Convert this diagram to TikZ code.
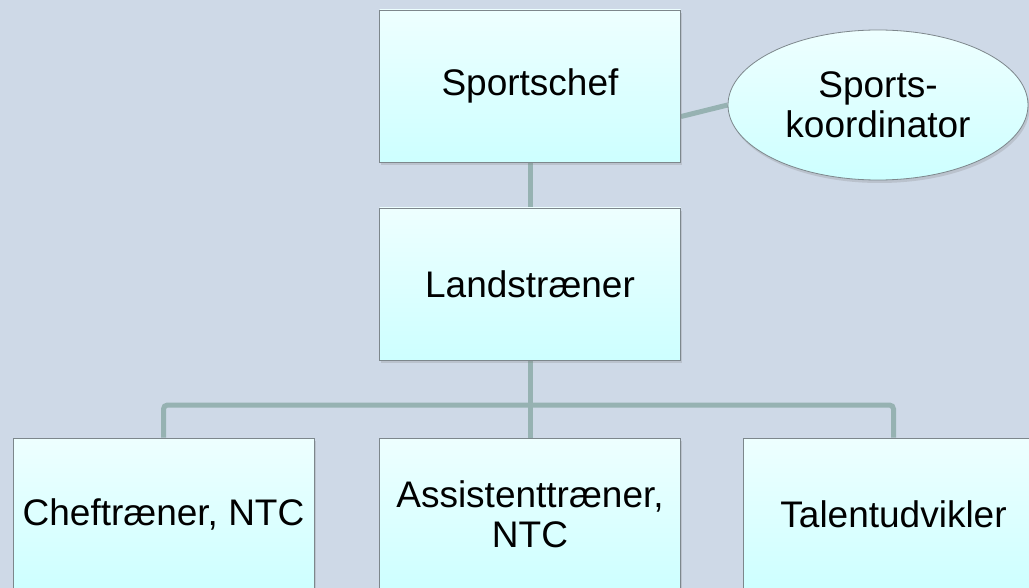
\documentclass[tikz,border=0pt]{standalone}
\usepackage{fontspec}
\setmainfont{Liberation Sans}
\usepackage{tikz}
\usetikzlibrary{calc,shapes.geometric,shadows}

\definecolor{bgcol}{RGB}{206,217,231}
\definecolor{linkcol}{RGB}{150,178,178}
\definecolor{boxtop}{RGB}{238,255,255}
\definecolor{boxbot}{RGB}{205,255,255}
\definecolor{boxline}{RGB}{125,135,140}

\pgfdeclarelayer{back}
\pgfdeclarelayer{links}
\pgfsetlayers{back,links,main}

\begin{document}
\begin{tikzpicture}[x=1pt,y=-1pt,
    post/.style={draw=boxline, line width=0.8pt, top color=boxtop, bottom color=boxbot,
      minimum width=301pt, minimum height=152pt, inner sep=0pt, align=center,
      font=\fontsize{37}{40}\selectfont,
      drop shadow={opacity=0.25, shadow xshift=1.5pt, shadow yshift=-3pt}},
    bubble/.style={post, ellipse, minimum width=300pt, minimum height=150pt},
    link/.style={draw=linkcol, line width=5pt, rounded corners=4pt}]
      \useasboundingbox (0,0) rectangle (1029,588);
      \clip (0,0) rectangle (1029,588);

      %% top
      \node [post] (chef) at (530,86) {Sportschef};
      \node [bubble] (koord) at (878,105) {Sports-\\koordinator};
      \node [post] (land) at (530,284) {Landstræner};
      \coordinate (bar) at (530,405);

      %% bottom row
      \node [post] (cheftr) at (163.5,514) {Cheftræner, NTC};
      \node [post] (assist) at (530,514) {Assistenttræner,\\NTC};
      \node [post] (talent) at (893.5,514) {Talentudvikler};

      \begin{pgfonlayer}{back}
        \fill [bgcol] (0,0) rectangle (1029,588);
      \end{pgfonlayer}

      \begin{pgfonlayer}{links}
        \draw [link] (chef) -- (land);
        \draw [link] (land) -- (assist);
        \draw [link] (bar) -| (cheftr.north);
        \draw [link] (bar) -| (talent.north);
        \draw [link] ($(chef.south east)!0.3!(chef.north east)$) -- (koord.west);
      \end{pgfonlayer}
\end{tikzpicture}
\end{document}
